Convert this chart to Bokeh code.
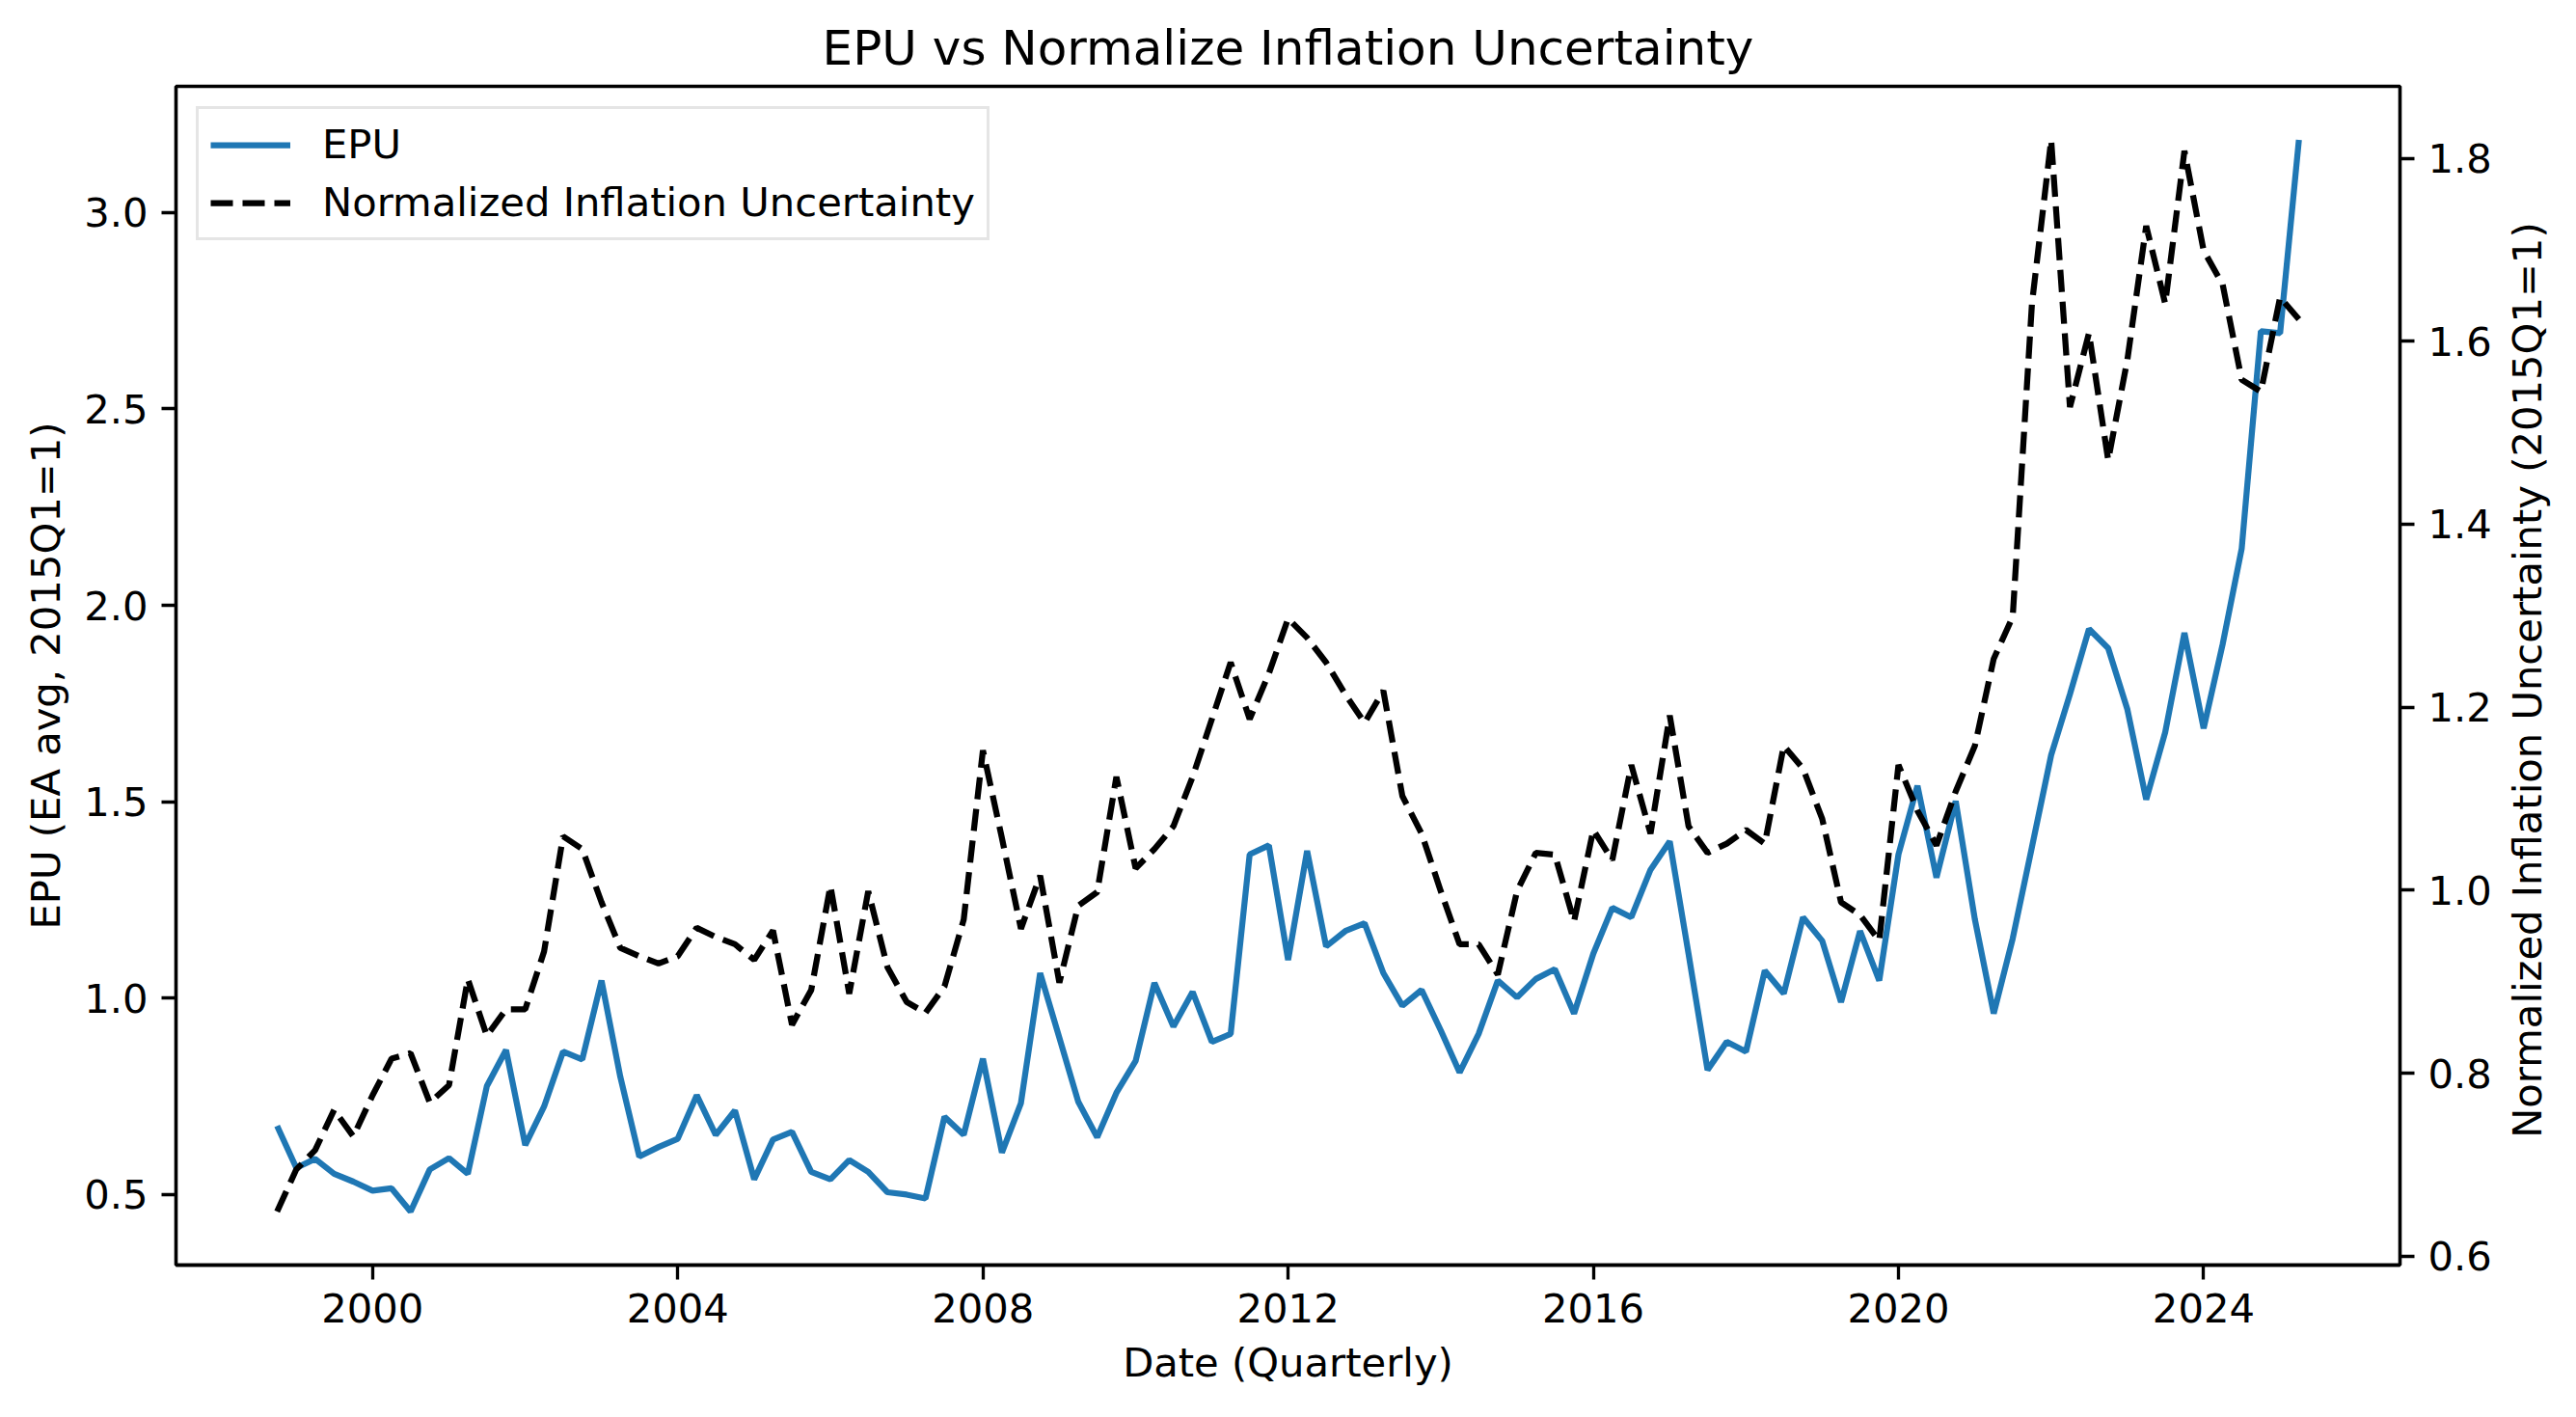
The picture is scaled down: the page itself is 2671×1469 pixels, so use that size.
import math
import pandas as pd
from bokeh.plotting import figure
from bokeh.layouts import row
from bokeh.models import (Range1d, LinearAxis, FixedTicker, DatetimeTickFormatter,
                          Legend, LegendItem, NumeralTickFormatter, Label)
from bokeh.embed import file_html
from bokeh.resources import INLINE

# ---- data ----
start_quarter = "1998-10-01"
n_quarters = 107
dates = pd.date_range(start_quarter, periods=n_quarters, freq="QS")

epu = [0.675, 0.568, 0.591, 0.553, 0.533, 0.51, 0.516, 0.457, 0.564, 0.593, 0.553, 0.776,
       0.868, 0.626, 0.724, 0.864, 0.844, 1.045, 0.80, 0.597, 0.621, 0.642, 0.753, 0.652,
       0.714,
       0.539, 0.64, 0.66, 0.558, 0.539, 0.588, 0.558, 0.506, 0.50, 0.49, 0.698, 0.652,
       0.846, 0.607, 0.733, 1.064, 0.899, 0.737, 0.646, 0.759, 0.84, 1.039, 0.928, 1.016,
       0.889, 0.909, 1.366, 1.389, 1.097, 1.375,
       1.132, 1.171, 1.191, 1.064, 0.981, 1.021, 0.918, 0.811, 0.909, 1.045, 1.002, 1.049,
       1.074, 0.961, 1.113, 1.23, 1.206, 1.327, 1.399, 1.113, 0.817, 0.889, 0.864, 1.07,
       1.012, 1.206, 1.146, 0.99, 1.171,
       1.045, 1.366, 1.541, 1.307, 1.502, 1.2, 0.961, 1.152, 1.385, 1.619, 1.774, 1.94,
       1.891, 1.735, 1.506, 1.677, 1.93, 1.687, 1.901, 2.144, 2.698, 2.693, 3.185]

niu = [0.649, 0.695, 0.716, 0.76, 0.731, 0.776, 0.816, 0.822, 0.768, 0.787, 0.903, 0.841,
       0.87, 0.87, 0.933, 1.059, 1.045, 0.987, 0.937, 0.928, 0.92, 0.928, 0.959, 0.949,
       0.941,
       0.924, 0.956, 0.853, 0.891, 1.005, 0.887, 0.999, 0.916, 0.878, 0.866, 0.895, 0.968,
       1.153, 1.057, 0.958, 1.016, 0.899, 0.983, 0.998, 1.124, 1.024, 1.045, 1.07, 1.124,
       1.187, 1.249, 1.187, 1.237, 1.297, 1.276,
       1.249, 1.214, 1.183, 1.218, 1.103, 1.062, 0.999, 0.941, 0.941, 0.908, 0.999, 1.041,
       1.039, 0.966, 1.066, 1.033, 1.137, 1.062, 1.191, 1.07, 1.041, 1.051, 1.066, 1.051,
       1.158, 1.133, 1.078, 0.987, 0.973,
       0.945, 1.137, 1.087, 1.049, 1.108, 1.158, 1.253, 1.299, 1.641, 1.82, 1.528, 1.609,
       1.47, 1.58, 1.726, 1.641, 1.808, 1.699, 1.662, 1.558, 1.545, 1.648, 1.624]

x_tick_years = ["2000", "2004", "2008", "2012", "2016", "2020", "2024"]
left_ticks = [0.5, 1.0, 1.5, 2.0, 2.5, 3.0]
right_ticks = [0.6, 0.8, 1.0, 1.2, 1.4, 1.6, 1.8]

title_text = "EPU vs Normalize Inflation Uncertainty"
x_label = "Date (Quarterly)"
left_label = "EPU (EA avg, 2015Q1=1)"
right_label = "Normalized Inflation Uncertainty (2015Q1=1)"
legend_labels = ["EPU", "Normalized Inflation Uncertainty"]

# ---- style ----
FONT = "DejaVu Sans"
TICK_FS = "41.7px"
LABEL_FS = "41.7px"
TITLE_FS = "50px"
SPINE_W = 3.33
BLUE = "#1f77b4"

W_MAIN, W_SIDE, H = 2590, 73, 1461
MB_L, MB_R, MB_T, MB_B = 182, 102, 89, 150


def pad_range(vals, frac=0.05):
    lo, hi = min(vals), max(vals)
    m = (hi - lo) * frac
    return lo - m, hi + m


xspan = dates.max() - dates.min()
x0 = (dates.min() - xspan * 0.05).to_pydatetime()
x1 = (dates.max() + xspan * 0.05).to_pydatetime()
yl0, yl1 = pad_range(epu)
yr0, yr1 = pad_range(niu)

p = figure(width=W_MAIN, height=H, x_axis_type="datetime",
           x_range=Range1d(x0, x1), y_range=Range1d(yl0, yl1),
           output_backend="svg", toolbar_location=None,
           min_border_left=MB_L, min_border_right=MB_R,
           min_border_top=MB_T, min_border_bottom=MB_B)

p.title.text = title_text
p.title.align = "center"
p.title.text_font = FONT
p.title.text_font_size = TITLE_FS
p.title.text_font_style = "normal"
p.title.text_color = "black"
p.title.standoff = 22

p.xgrid.visible = False
p.ygrid.visible = False
p.outline_line_color = "black"
p.outline_line_width = SPINE_W
p.background_fill_color = "white"
p.border_fill_color = "white"

p.extra_y_ranges = {"niu": Range1d(yr0, yr1)}


def style_axis(ax, label, standoff):
    ax.axis_label = label
    ax.axis_label_text_font = FONT
    ax.axis_label_text_font_size = LABEL_FS
    ax.axis_label_text_font_style = "normal"
    ax.axis_label_text_color = "black"
    ax.axis_label_standoff = standoff
    ax.major_label_text_font = FONT
    ax.major_label_text_font_size = TICK_FS
    ax.major_label_text_color = "black"
    ax.major_label_standoff = 14
    ax.major_tick_out = 15
    ax.major_tick_in = 0
    ax.major_tick_line_width = SPINE_W
    ax.major_tick_line_color = "black"
    ax.minor_tick_line_color = None
    ax.axis_line_color = "black"
    ax.axis_line_width = SPINE_W


xax = p.xaxis[0]
style_axis(xax, x_label, 14)
xax.ticker = FixedTicker(ticks=[pd.Timestamp(y + "-01-01").value // 10**6 for y in x_tick_years])
xax.formatter = DatetimeTickFormatter(years="%Y", months="%Y", days="%Y", hours="%Y",
                                      minutes="%Y", seconds="%Y", milliseconds="%Y")

yax = p.yaxis[0]
style_axis(yax, left_label, 12)
yax.ticker = FixedTicker(ticks=left_ticks)
yax.formatter = NumeralTickFormatter(format="0.0")

rax = LinearAxis(y_range_name="niu")
style_axis(rax, None, 13)
rax.ticker = FixedTicker(ticks=right_ticks)
rax.formatter = NumeralTickFormatter(format="0.0")
p.add_layout(rax, "right")

r1 = p.line(dates, epu, line_color=BLUE, line_width=6.25)
r2 = p.line(dates, niu, line_color="black", line_width=6.25, line_dash="23 10",
            y_range_name="niu")

legend = Legend(items=[LegendItem(label=legend_labels[0], renderers=[r1]),
                       LegendItem(label=legend_labels[1], renderers=[r2])],
                location="top_left")
legend.margin = 21
legend.padding = 12
legend.spacing = 11
legend.glyph_width = 83
legend.glyph_height = 40
legend.label_height = 40
legend.label_standoff = 33
legend.label_text_font = FONT
legend.label_text_font_size = LABEL_FS
legend.label_text_color = "black"
legend.border_line_color = "#cccccc"
legend.border_line_width = 3
legend.background_fill_color = "white"
legend.background_fill_alpha = 0.8
p.add_layout(legend)

# narrow side strip carrying the right-hand axis title (reads bottom-to-top)
side = figure(width=W_SIDE, height=H, x_range=Range1d(0, W_SIDE), y_range=Range1d(0, H),
              output_backend="svg", toolbar_location=None, min_border=0,
              x_axis_location=None, y_axis_location=None)
side.outline_line_color = None
side.xgrid.visible = False
side.ygrid.visible = False
side.background_fill_color = "white"
side.border_fill_color = "white"
side.add_layout(Label(x=30, y=H - 736, text=right_label, angle=math.pi / 2,
                      angle_units="rad", text_align="center", text_baseline="middle",
                      text_font=FONT, text_font_size=LABEL_FS, text_color="black"))

layout = row(p, side, spacing=0)
open("out.html", "w").write(file_html(layout, INLINE))
